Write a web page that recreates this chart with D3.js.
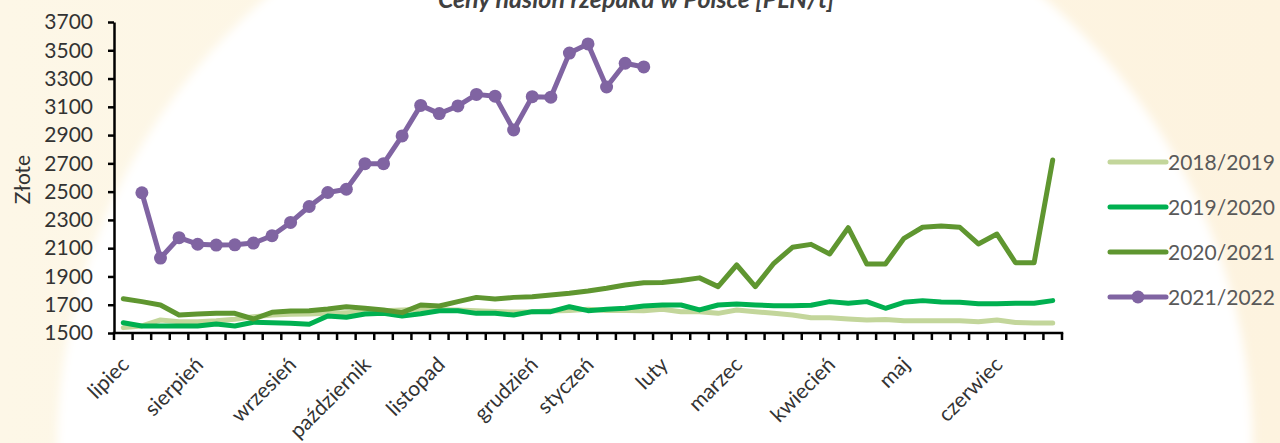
<!DOCTYPE html>
<html>
<head>
<meta charset="utf-8">
<script src="https://cdn.jsdelivr.net/npm/d3@7"></script>
<style>
  body { margin: 0; overflow: hidden; background: #fdf7e8; }
  svg { display: block; font-family: Lato, "Open Sans", sans-serif; }
</style>
</head>
<body>
<svg id="chart" width="1280" height="443"></svg>
<script>
// tygodnie sezonu lipiec - czerwiec, nazwa miesiaca przy pierwszym tygodniu
const weekLabels = [
  'lipiec', '', '', '',
  'sierpień', '', '', '', '',
  'wrzesień', '', '', '',
  'październik', '', '', '',
  'listopad', '', '', '', '',
  'grudzień', '', '',
  'styczeń', '', '', '',
  'luty', '', '', '',
  'marzec', '', '', '', '',
  'kwiecień', '', '', '',
  'maj', '', '', '', '',
  'czerwiec', '', '', ''
];

const yTicks = [1500, 1700, 1900, 2100, 2300, 2500, 2700, 2900, 3100, 3300, 3500, 3700];

const seriesNames = ['2018/2019', '2019/2020', '2020/2021', '2021/2022'];

const s2018 = [
  1538, 1550, 1592, 1580, 1580, 1587, 1597, 1615, 1627, 1632, 1634, 1639, 1644, 1651, 1658, 1663, 1668,
  1665, 1662, 1658, 1652, 1648, 1650, 1655, 1660, 1668, 1660, 1660, 1658, 1668, 1651, 1651, 1639, 1663,
  1651, 1639, 1627, 1608, 1608, 1599, 1592, 1596, 1587, 1587, 1587, 1587, 1580, 1592, 1575, 1571, 1571
];

const s2019 = [
  1573, 1550, 1550, 1550, 1550, 1564, 1550, 1576, 1573, 1569, 1562, 1620, 1611, 1634, 1639, 1620, 1636,
  1658, 1658, 1639, 1639, 1627, 1651, 1651, 1686, 1658, 1668, 1675, 1691, 1698, 1698, 1663, 1698, 1705,
  1698, 1693, 1693, 1696, 1722, 1710, 1722, 1675, 1717, 1729, 1720, 1717, 1707, 1707, 1710, 1710, 1729
];

const s2020 = [
  1742, 1722, 1698, 1627, 1634, 1639, 1639, 1599, 1646, 1655, 1658, 1670, 1686, 1675, 1663, 1644, 1698,
  1691, 1722, 1752, 1740, 1752, 1757, 1769, 1781, 1797, 1816, 1840, 1856, 1858, 1872, 1890, 1828, 1981,
  1828, 1993, 2106, 2127, 2059, 2245, 1988, 1988, 2170, 2248, 2257, 2248, 2130, 2200, 1997, 1997, 2724
];

const s2021 = [
  null, 2492, 2030, 2174, 2128, 2122, 2124, 2136, 2188, 2282, 2395, 2494, 2517, 2698, 2698, 2894, 3110,
  3052, 3106, 3188, 3175, 2936, 3172, 3168, 3480, 3545, 3240, 3408, 3382, null, null, null, null, null,
  null, null, null, null, null, null, null, null, null, null, null, null, null, null, null, null, null
];

const colors = ['#c3d69b', '#00b050', '#5f9630', '#8064a2'];
const allSeries = [s2018, s2019, s2020, s2021];

const svg = d3.select('#chart');
const W = 1280, H = 443;
const margin = { top: 22, left: 114, right: 218, bottom: 110 };

// tlo: kremowe z bialym "swiatlem" od dolu
const defs = svg.append('defs');
defs.append('filter').attr('id', 'soft')
  .attr('x', '-20%').attr('y', '-20%').attr('width', '140%').attr('height', '140%')
  .append('feGaussianBlur').attr('stdDeviation', 5);
const bg = defs.append('linearGradient').attr('id', 'bg');
bg.append('stop').attr('offset', '0%').attr('stop-color', '#fdf7e7');
bg.append('stop').attr('offset', '100%').attr('stop-color', '#fdf3df');

svg.append('rect').attr('width', W).attr('height', H).attr('fill', 'url(#bg)');
svg.append('circle')
  .attr('cx', 655).attr('cy', 452).attr('r', 598)
  .attr('fill', '#ffffff')
  .attr('filter', 'url(#soft)');

const x = d3.scaleBand()
  .domain(d3.range(weekLabels.length))
  .range([margin.left, W - margin.right])
  .padding(0);

const y = d3.scaleLinear()
  .domain([1500, 3700])
  .range([H - margin.bottom, margin.top]);

const cx = i => x(i) + x.bandwidth() / 2;

// tytul (uciety u gory, jak w oryginale)
svg.append('text')
  .attr('x', 636).attr('y', 8)
  .attr('text-anchor', 'middle')
  .attr('font-size', 25).attr('font-weight', 'bold').attr('font-style', 'italic')
  .attr('fill', '#404040')
  .text('Ceny nasion rzepaku w Polsce [PLN/t]');

// os Y
const yAxis = svg.append('g')
  .attr('transform', `translate(${margin.left},0)`)
  .call(d3.axisLeft(y).tickValues(yTicks).tickFormat(d3.format('d'))
    .tickSize(6).tickPadding(15).tickSizeOuter(0));
yAxis.select('.domain').attr('stroke', '#000').attr('stroke-width', 2.5);
yAxis.selectAll('.tick line').attr('stroke', '#000').attr('stroke-width', 2.5);
yAxis.selectAll('.tick text')
  .attr('font-size', 21).attr('fill', '#333').attr('font-family', 'Lato, sans-serif');

svg.append('text')
  .attr('transform', `translate(30, ${(y(1500) + y(3700)) / 2 + 2}) rotate(-90)`)
  .attr('text-anchor', 'middle')
  .attr('font-size', 21).attr('fill', '#333')
  .text('Złote');

// os X - kreski na granicach kategorii
const xAxis = svg.append('g');
const bounds = d3.range(weekLabels.length + 1).map(i => i < weekLabels.length ? x(i) : x.range()[1]);
xAxis.append('line')
  .attr('x1', x.range()[0] - 1.25).attr('x2', x.range()[1] + 1.25)
  .attr('y1', y(1500)).attr('y2', y(1500))
  .attr('stroke', '#000').attr('stroke-width', 2.5);
xAxis.selectAll('line.tick').data(bounds).join('line')
  .attr('class', 'tick')
  .attr('x1', d => d).attr('x2', d => d)
  .attr('y1', y(1500)).attr('y2', y(1500) + 7)
  .attr('stroke', '#000').attr('stroke-width', 2.5);

xAxis.selectAll('text')
  .data(weekLabels.map((l, i) => ({ l, i })).filter(d => d.l !== ''))
  .join('text')
  .attr('text-anchor', 'end')
  .attr('font-size', 21).attr('fill', '#333')
  .attr('transform', d => `translate(${cx(d.i) + 7}, ${y(1500) + 33}) rotate(-45)`)
  .text(d => d.l);

// linie serii
const line = d3.line()
  .defined(d => d != null)
  .x((d, i) => cx(i))
  .y(d => y(d));

allSeries.forEach((s, k) => {
  svg.append('path')
    .datum(s)
    .attr('fill', 'none')
    .attr('stroke', colors[k])
    .attr('stroke-width', 5)
    .attr('stroke-linejoin', 'round')
    .attr('stroke-linecap', 'round')
    .attr('d', line);
});

// znaczniki dla 2021/2022
svg.append('g').selectAll('circle')
  .data(s2021.map((v, i) => ({ v, i })).filter(d => d.v != null))
  .join('circle')
  .attr('cx', d => cx(d.i))
  .attr('cy', d => y(d.v))
  .attr('r', 6.5)
  .attr('fill', colors[3]);

// legenda
const legend = svg.append('g').attr('transform', 'translate(1110, 162)');
seriesNames.forEach((name, k) => {
  const row = legend.append('g').attr('transform', `translate(0, ${k * 45})`);
  row.append('line')
    .attr('x1', 0).attr('x2', 56)
    .attr('stroke', colors[k]).attr('stroke-width', 5)
    .attr('stroke-linecap', 'round');
  if (k === 3) {
    row.append('circle').attr('cx', 28).attr('r', 6.5).attr('fill', colors[k]);
  }
  row.append('text')
    .attr('x', 58).attr('y', 7.5)
    .attr('font-size', 21).attr('fill', '#595959')
    .text(name);
});
</script>
</body>
</html>
